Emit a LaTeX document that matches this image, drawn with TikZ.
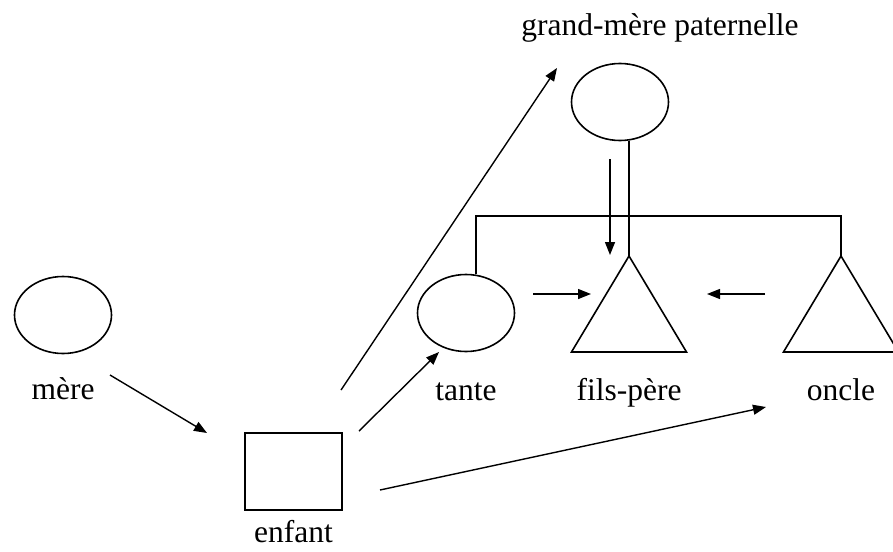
\documentclass[tikz,border=0pt]{standalone}
\usepackage{fontspec}
\setmainfont{Liberation Serif}
\usetikzlibrary{shapes.geometric,arrows.meta}
\tikzset{femme/.style={ellipse, draw=black, line width=1.6pt, minimum width=97pt, minimum height=77pt, inner sep=0pt},
	enfantbox/.style={rectangle, draw=black, line width=1.6pt, minimum width=97pt, minimum height=77pt, inner sep=0pt},
	forme/.style={draw=black, line width=1.6pt, line join=miter},
	lien/.style={draw=black, line width=2.4pt},
	fleche/.style={draw=black, line width=1.4pt, -{Triangle[length=13pt,width=10pt]}},
	nom/.style={anchor=base, inner sep=0pt, font=\fontsize{31.5}{38}\selectfont}}

\begin{document}
\begin{tikzpicture}[x=1pt,y=-1pt]
	\useasboundingbox (0,0) rectangle (893,551); %fixes the page
	\node[femme] (mere) at (63,315) {}; %mother
	\node[femme] (grandmere) at (620,102) {}; %grandmother
	\node[femme] (tante) at (466,313) {}; %aunt
	\node[enfantbox] (enfant) at (293.5,471.5) {}; %child
	\coordinate (fils) at (629,256); %apex of the father
	\coordinate (oncle) at (841,256); %apex of the uncle
	\foreach \qui in {fils,oncle}
	\draw[forme] (\qui) -- ++(-57.5,96) -- ++(115,0) -- cycle; %Draws a triangle
	% labels
	\node[nom] (gmL) at (660,36) {grand-mère paternelle};
	\node[nom] (mereL) at (63,399) {mère};
	\node[nom] (tanteL) at (466,400) {tante};
	\node[nom] (filsL) at (629,400) {fils-père};
	\node[nom] (oncleL) at (841,400) {oncle};
	\node[nom] (enfantL) at (293.5,542) {enfant};
	% family lines
	\coordinate (barreG) at (476,216);
	\coordinate (barreD) at (841,216);
	\draw[lien] (grandmere.south -| fils) -- (fils);
	\draw[lien] (tante.north -| barreG) -- (barreG) -- (barreD) -- (oncle);
	% free ends of the arrows
	\coordinate (a1) at (610,159); \coordinate (a2) at (610,255);
	\coordinate (b1) at (533,294); \coordinate (b2) at (591,294);
	\coordinate (c1) at (765,294); \coordinate (c2) at (707,294);
	\coordinate (d1) at (110,375); \coordinate (d2) at (207,433);
	\coordinate (e1) at (341,390); \coordinate (e2) at (557,68);
	\coordinate (f1) at (359,431); \coordinate (f2) at (439,352);
	\coordinate (g1) at (380,490); \coordinate (g2) at (766,407);
	\foreach \from/\to in {a1/a2,b1/b2,c1/c2,d1/d2,e1/e2,f1/f2,g1/g2}
	\draw[fleche] (\from) -- (\to); %Puts an arrow
\end{tikzpicture}
\end{document}
